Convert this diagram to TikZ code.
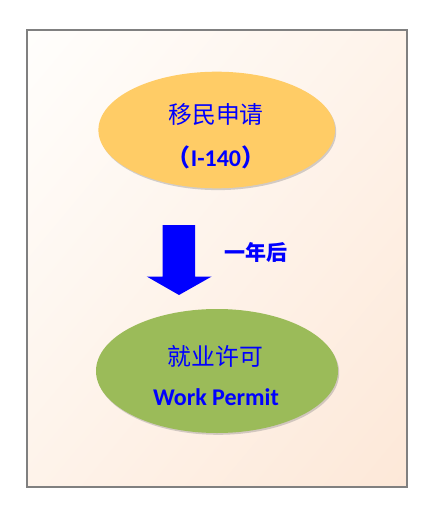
\documentclass[tikz,border=0pt]{standalone}
\usepackage{fontspec}
\setmainfont{Carlito}
\newfontfamily\cjk{Noto Sans CJK SC}
\usetikzlibrary{shapes.geometric,shadows,shadings}
\definecolor{frameg}{HTML}{808080}
\definecolor{bgA}{HTML}{FFFEFC}
\definecolor{bgB}{HTML}{FEF3EA}
\definecolor{bgC}{HTML}{FDE8D8}
\definecolor{gold}{HTML}{FFCC66}
\definecolor{olive}{HTML}{9BBB59}
\definecolor{txtblue}{HTML}{0000FF}
\tikzset{
  oval/.style={ellipse, inner sep=0pt, draw=none,
    drop shadow={shadow xshift=1.2pt, shadow yshift=-1.8pt, opacity=0.35, fill=black!50}},
  cjktxt/.style={text=txtblue, inner sep=0pt, font=\cjk\fontsize{23.8}{26}\selectfont},
  lattxt/.style={text=txtblue, inner sep=0pt, font=\bfseries\fontsize{24}{28}\selectfont},
  boldcjk/.style={text=txtblue, inner sep=0pt, font=\cjk\bfseries\fontsize{21}{24}\selectfont},
}
\begin{document}
\begin{tikzpicture}[x=1pt,y=-1pt]
\useasboundingbox (0,0) rectangle (432,529);
\shade[upper left=bgA, upper right=bgB, lower left=bgB, lower right=bgC] (27,30) rectangle (407,487);
\draw[frameg, line width=2pt] (27,30) rectangle (407,487);

\node[oval, fill=gold, minimum width=236.6pt, minimum height=116.6pt] (e1) at (216.7,130) {};
\node[cjktxt] (t1) at (216,115) {移民申请};
\node[lattxt] (t2) at (216,157) {\cjk（\normalfont\bfseries I-140\cjk）};

\fill[txtblue] (162.5,225) -- (195,225) -- (195,276.5) -- (211.7,276.5) -- (179,295) -- (146.7,276.5) -- (162.5,276.5) -- cycle;
\node[boldcjk] (t3) at (255.5,252) {一年后};

\node[oval, fill=olive, minimum width=242pt, minimum height=124pt] (e2) at (217,371) {};
\node[cjktxt] (t4) at (215.5,356) {就业许可};
\node[lattxt] (t5) at (216,397) {Work Permit};
\end{tikzpicture}
\end{document}
